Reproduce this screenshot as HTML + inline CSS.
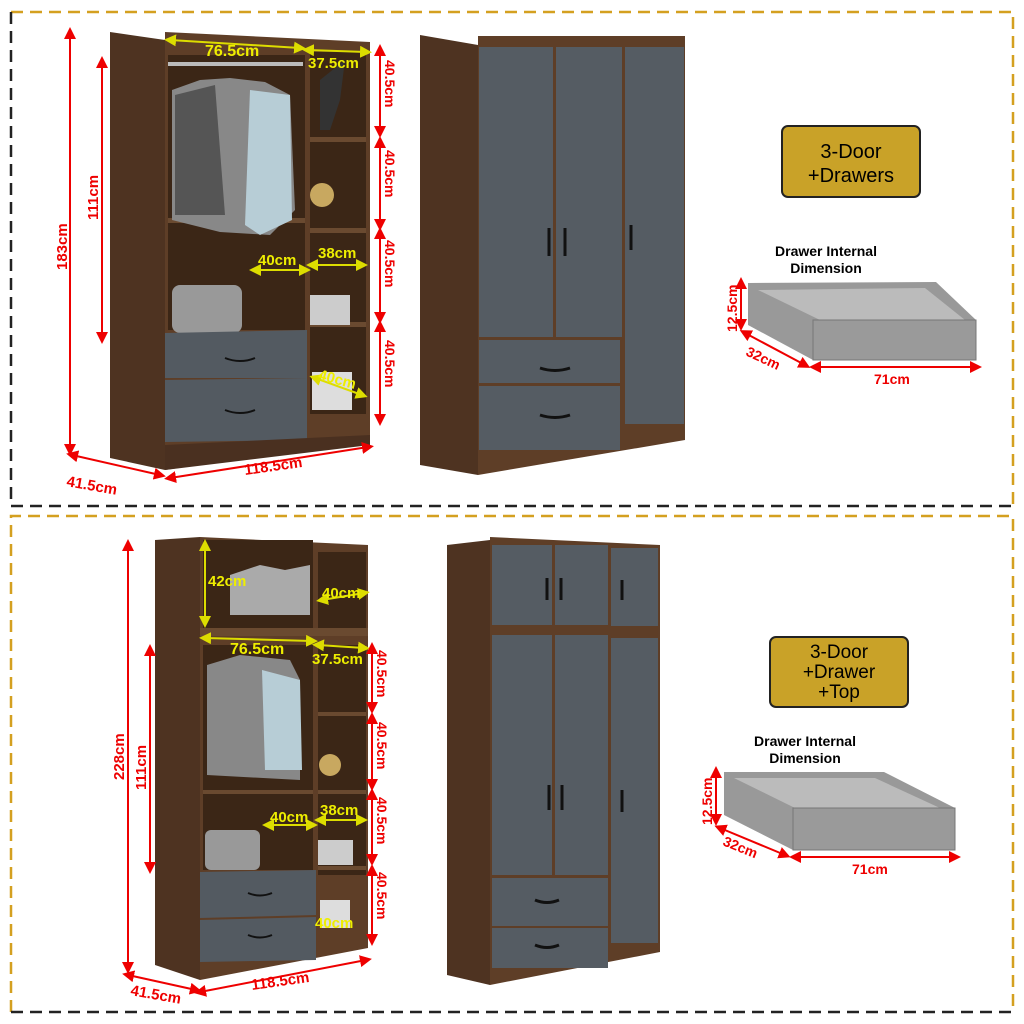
<!DOCTYPE html><html><head><style>body{margin:0;background:#fff}svg{display:block}text{font-family:"Liberation Sans",sans-serif}</style></head><body>
<svg width="1024" height="1024" viewBox="0 0 1024 1024" xmlns="http://www.w3.org/2000/svg">
<defs><marker id="a" markerWidth="6" markerHeight="6" refX="3" refY="3" orient="auto-start-reverse"><path d="M0,0L6,3L0,6z" fill="#e00"/></marker>
<marker id="y" markerWidth="6" markerHeight="6" refX="3" refY="3" orient="auto-start-reverse"><path d="M0,0L6,3L0,6z" fill="#dd0"/></marker></defs>
<!-- panel borders -->
<g fill="none" stroke-width="2.5" stroke-dasharray="12,7">
<path d="M11,12H1013V506" stroke="#d4a020"/><path d="M11,12V506H1013" stroke="#222"/>
<path d="M11,1012V516H1013V1012" stroke="#d4a020"/><path d="M11,1012H1013" stroke="#222"/>
</g>
<!-- ===== panel 1 open wardrobe ===== -->
<polygon points="110,32 165,40 165,470 110,458" fill="#4e3321"/>
<polygon points="165,32 370,42 370,440 165,470" fill="#5e3e27"/>
<rect x="168" y="55" width="137" height="275" fill="#3b2616"/>
<rect x="310" y="52" width="56" height="282" fill="#3b2616"/>
<rect x="310" y="137" width="56" height="5" fill="#6a4a30"/><rect x="310" y="228" width="56" height="5" fill="#6a4a30"/>
<rect x="310" y="322" width="56" height="5" fill="#6a4a30"/>
<rect x="310" y="334" width="56" height="80" fill="#3b2616"/>
<rect x="168" y="218" width="137" height="5" fill="#6a4a30"/>
<rect x="168" y="62" width="135" height="4" fill="#bbb"/>
<path d="M172,90 L200,80 L230,78 L265,82 L290,95 L295,210 L270,235 L220,232 L172,220z" fill="#888"/>
<path d="M175,95 L215,85 L225,215 L175,215z" fill="#555"/>
<path d="M250,90 L290,95 L292,220 L260,235 L245,225z" fill="#b7cdd6"/>
<rect x="172" y="285" width="70" height="48" rx="8" fill="#999"/>
<polygon points="165,333 307,330 307,378 165,378" fill="#535a61"/>
<polygon points="165,380 307,378 307,440 165,442" fill="#535a61"/>
<path d="M225,358q15,6 30,0M225,410q15,6 30,0" stroke="#111" stroke-width="2" fill="none"/>
<polygon points="165,445 370,435 370,445 165,470" fill="#4a3020"/>
<circle cx="322" cy="195" r="12" fill="#c8a860"/>
<rect x="310" y="295" width="40" height="30" fill="#ccc"/><rect x="312" y="372" width="40" height="38" fill="#ddd"/>
<path d="M320,80 L345,60 L340,100 L330,130 L320,130z" fill="#333"/>
<!-- yellow dims -->
<g stroke="#dd0" stroke-width="2" marker-start="url(#y)" marker-end="url(#y)">
<line x1="170" y1="40" x2="300" y2="48"/><line x1="308" y1="50" x2="366" y2="52"/>
<line x1="255" y1="270" x2="305" y2="270"/><line x1="312" y1="265" x2="362" y2="265"/><line x1="315" y1="378" x2="362" y2="395"/></g>
<g font-size="15" font-weight="bold" fill="#111" stroke="#dd0" stroke-width="0.6">
<text x="205" y="56" fill="#ee0" stroke="none" font-size="16">76.5cm</text>
<text x="308" y="68" fill="#ee0" stroke="none">37.5cm</text>
<text x="258" y="265" fill="#ee0" stroke="none">40cm</text>
<text x="318" y="258" fill="#ee0" stroke="none">38cm</text>
<text x="318" y="385" fill="#ee0" stroke="none" transform="rotate(15 340 380)">40cm</text></g>
<!-- red dims -->
<g stroke="#e00" stroke-width="2" marker-start="url(#a)" marker-end="url(#a)">
<line x1="70" y1="33" x2="70" y2="450"/><line x1="102" y1="62" x2="102" y2="338"/>
<line x1="380" y1="50" x2="380" y2="132"/><line x1="380" y1="142" x2="380" y2="225"/><line x1="380" y1="233" x2="380" y2="318"/><line x1="380" y1="326" x2="380" y2="420"/>
<line x1="72" y1="455" x2="160" y2="475"/><line x1="170" y1="478" x2="368" y2="447"/></g>
<g fill="#e00" font-size="15" font-weight="bold">
<text transform="translate(67,270) rotate(-90)">183cm</text>
<text transform="translate(98,220) rotate(-90)">111cm</text>
<g font-size="14"><text transform="translate(385,60) rotate(90)">40.5cm</text><text transform="translate(385,150) rotate(90)">40.5cm</text><text transform="translate(385,240) rotate(90)">40.5cm</text><text transform="translate(385,340) rotate(90)">40.5cm</text></g>
<text x="66" y="486" transform="rotate(10 66 486)">41.5cm</text>
<text x="245" y="475" transform="rotate(-8 245 475)">118.5cm</text></g>
<!-- closed wardrobe 1 -->
<polygon points="420,35 478,45 478,475 420,465" fill="#4e3321"/>
<polygon points="478,45 685,45 685,440 478,475" fill="#5e3e27"/>
<rect x="478" y="36" width="207" height="12" fill="#5e3e27"/>
<rect x="479" y="47" width="74" height="290" fill="#555c63"/><rect x="556" y="47" width="66" height="290" fill="#555c63"/>
<rect x="625" y="47" width="59" height="377" fill="#555c63"/>
<rect x="479" y="340" width="141" height="43" fill="#555c63"/><rect x="479" y="386" width="141" height="64" fill="#555c63"/>
<path d="M549,228v28M565,228v28M631,225v25M540,368q15,5 30,0M540,415q15,5 30,0" stroke="#111" stroke-width="3" fill="none"/>
<!-- label 1 -->
<rect x="782" y="126" width="138" height="71" rx="6" fill="#c9a228" stroke="#222" stroke-width="2"/>
<text x="851" y="158" font-size="20" text-anchor="middle">3-Door</text><text x="851" y="182" font-size="20" text-anchor="middle">+Drawers</text>
<text x="826" y="256" font-size="14" font-weight="bold" text-anchor="middle">Drawer Internal</text><text x="826" y="273" font-size="14" font-weight="bold" text-anchor="middle">Dimension</text>
<polygon points="748,283 936,282 976,320 976,360 813,360 748,325" fill="#999"/>
<polygon points="758,290 925,288 965,320 820,320" fill="#bbb"/>
<polygon points="813,320 976,320 976,360 813,360" fill="#9a9a9a" stroke="#777"/>
<g stroke="#e00" stroke-width="2" marker-start="url(#a)" marker-end="url(#a)"><line x1="741" y1="283" x2="741" y2="325"/><line x1="745" y1="333" x2="805" y2="365"/><line x1="815" y1="367" x2="976" y2="367"/></g>
<g fill="#e00" font-size="14" font-weight="bold"><text transform="translate(737,332) rotate(-90)">12.5cm</text><text x="745" y="355" transform="rotate(25 745 355)">32cm</text><text x="874" y="384">71cm</text></g>
<!-- ===== panel 2 open wardrobe ===== -->
<polygon points="155,540 200,537 200,980 155,965" fill="#4e3321"/>
<polygon points="200,537 368,545 368,948 200,980" fill="#5e3e27"/>
<rect x="203" y="540" width="110" height="88" fill="#3b2616"/><rect x="318" y="552" width="48" height="76" fill="#3b2616"/>
<rect x="200" y="628" width="168" height="8" fill="#6a4a30"/>
<rect x="203" y="645" width="110" height="225" fill="#3b2616"/><rect x="318" y="645" width="48" height="230" fill="#3b2616"/>
<rect x="318" y="712" width="48" height="4" fill="#6a4a30"/><rect x="318" y="790" width="48" height="4" fill="#6a4a30"/><rect x="318" y="866" width="48" height="4" fill="#6a4a30"/><rect x="203" y="790" width="110" height="4" fill="#6a4a30"/>
<path d="M230,575l30,-10 25,5 25,-5 0,50 -80,0z" fill="#aaa"/>
<path d="M207,665 L240,655 L290,660 L300,680 L300,780 L207,775z" fill="#888"/>
<path d="M262,670 L300,680 L302,770 L265,770z" fill="#b7cdd6"/>
<rect x="205" y="830" width="55" height="40" rx="6" fill="#999"/>
<polygon points="200,872 316,870 316,915 200,918" fill="#535a61"/><polygon points="200,920 316,917 316,960 200,962" fill="#535a61"/>
<path d="M248,893q12,5 24,0M248,935q12,5 24,0" stroke="#111" stroke-width="2" fill="none"/>
<circle cx="330" cy="765" r="11" fill="#c8a860"/><rect x="318" y="840" width="35" height="25" fill="#ccc"/><rect x="320" y="900" width="30" height="28" fill="#ddd"/>
<g stroke="#dd0" stroke-width="2" marker-start="url(#y)" marker-end="url(#y)">
<line x1="205" y1="545" x2="205" y2="622"/><line x1="322" y1="600" x2="364" y2="593"/><line x1="205" y1="638" x2="312" y2="641"/><line x1="318" y1="645" x2="364" y2="648"/>
<line x1="268" y1="825" x2="312" y2="825"/><line x1="320" y1="820" x2="362" y2="820"/></g>
<g font-size="15" font-weight="bold" fill="#ee0"><text x="208" y="586">42cm</text><text x="322" y="598">40cm</text><text x="230" y="654" font-size="16">76.5cm</text><text x="312" y="664">37.5cm</text><text x="270" y="822">40cm</text><text x="320" y="815">38cm</text><text x="315" y="928">40cm</text></g>
<g stroke="#e00" stroke-width="2" marker-start="url(#a)" marker-end="url(#a)">
<line x1="128" y1="545" x2="128" y2="968"/><line x1="150" y1="650" x2="150" y2="868"/>
<line x1="372" y1="648" x2="372" y2="708"/><line x1="372" y1="718" x2="372" y2="785"/><line x1="372" y1="794" x2="372" y2="860"/><line x1="372" y1="870" x2="372" y2="940"/>
<line x1="128" y1="975" x2="196" y2="990"/><line x1="200" y1="992" x2="366" y2="960"/></g>
<g fill="#e00" font-size="15" font-weight="bold">
<text transform="translate(124,780) rotate(-90)">228cm</text><text transform="translate(146,790) rotate(-90)">111cm</text>
<g font-size="14"><text transform="translate(377,650) rotate(90)">40.5cm</text><text transform="translate(377,722) rotate(90)">40.5cm</text><text transform="translate(377,797) rotate(90)">40.5cm</text><text transform="translate(377,872) rotate(90)">40.5cm</text></g>
<text x="130" y="995" transform="rotate(10 130 995)">41.5cm</text><text x="252" y="990" transform="rotate(-8 252 990)">118.5cm</text></g>
<!-- closed wardrobe 2 -->
<polygon points="447,545 490,540 490,985 447,975" fill="#4e3321"/>
<polygon points="490,537 660,545 660,952 490,985" fill="#5e3e27"/>
<rect x="492" y="545" width="60" height="80" fill="#555c63"/><rect x="555" y="545" width="53" height="80" fill="#555c63"/><rect x="611" y="548" width="47" height="78" fill="#555c63"/>
<rect x="492" y="635" width="60" height="240" fill="#555c63"/><rect x="555" y="635" width="53" height="240" fill="#555c63"/><rect x="611" y="638" width="47" height="305" fill="#555c63"/>
<rect x="492" y="878" width="116" height="48" fill="#555c63"/><rect x="492" y="928" width="116" height="40" fill="#555c63"/>
<path d="M547,578v22M561,578v22M622,580v20M549,785v25M562,785v25M622,790v22M535,900q12,5 24,0M535,945q12,5 24,0" stroke="#111" stroke-width="3" fill="none"/>
<rect x="770" y="637" width="138" height="70" rx="6" fill="#c9a228" stroke="#222" stroke-width="2"/>
<g font-size="19" text-anchor="middle"><text x="839" y="658">3-Door</text><text x="839" y="678">+Drawer</text><text x="839" y="698">+Top</text></g>
<text x="805" y="746" font-size="14" font-weight="bold" text-anchor="middle">Drawer Internal</text><text x="805" y="763" font-size="14" font-weight="bold" text-anchor="middle">Dimension</text>
<polygon points="724,772 884,772 955,808 955,850 793,850 724,815" fill="#999"/>
<polygon points="734,778 875,778 940,808 795,808" fill="#bbb"/>
<polygon points="793,808 955,808 955,850 793,850" fill="#9a9a9a" stroke="#777"/>
<g stroke="#e00" stroke-width="2" marker-start="url(#a)" marker-end="url(#a)"><line x1="716" y1="772" x2="716" y2="820"/><line x1="720" y1="828" x2="785" y2="855"/><line x1="795" y1="857" x2="955" y2="857"/></g>
<g fill="#e00" font-size="14" font-weight="bold"><text transform="translate(712,825) rotate(-90)">12.5cm</text><text x="722" y="845" transform="rotate(22 722 845)">32cm</text><text x="852" y="874">71cm</text></g>
</svg></body></html>
